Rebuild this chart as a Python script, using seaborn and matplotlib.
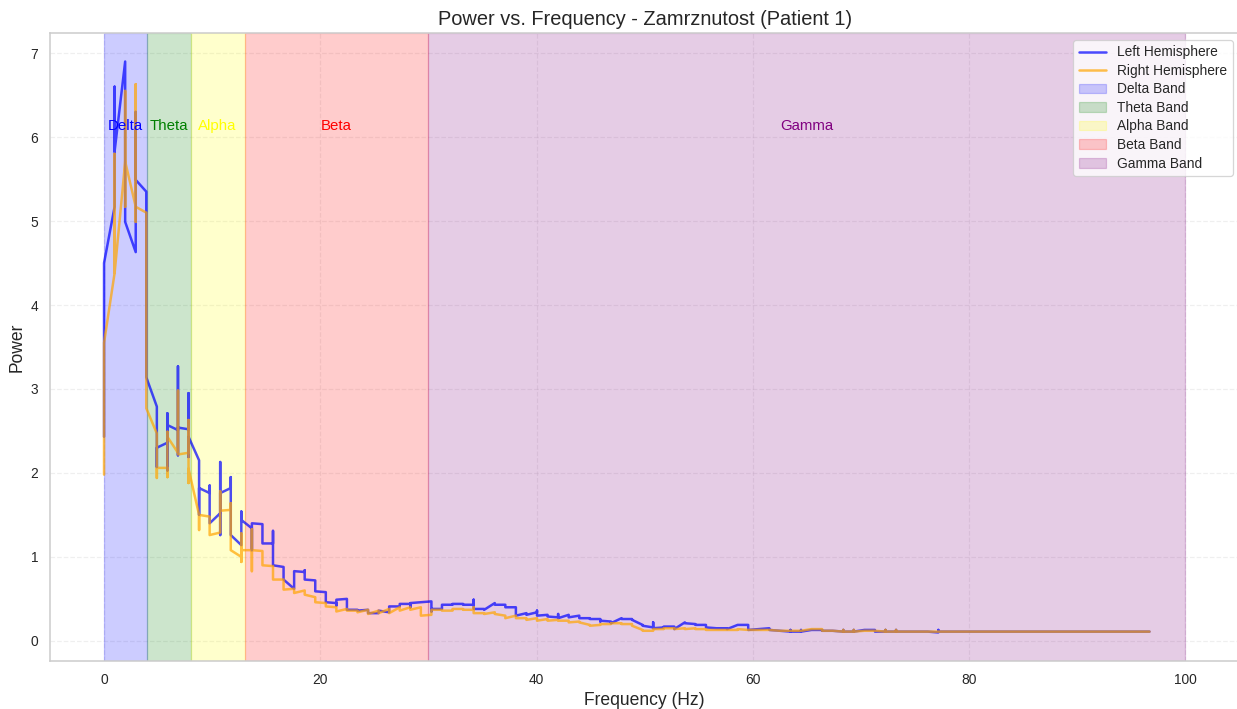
import numpy as np
import pandas as pd
import matplotlib
matplotlib.use('Agg')
import matplotlib.pyplot as plt
import seaborn as sns

# PSD bins (fs = 250 Hz, nperseg = 256) -> bin k sits at k * 250/256 Hz
freq_res = 250 / 256

# power values visited at each bin, in drawing order (several values = vertical jump)
left_power = [
    [2.43, 4.5], [5.17, 6.6, 5.83], [6.9, 4.99], [4.63, 6.3, 5.49], [5.35, 3.14],
    [2.79, 2.07, 2.3], [2.36, 2.71, 2.03, 2.57], [2.51, 3.27, 2.21, 2.54], [2.52, 2.95, 2.19, 2.43], [2.15, 1.5, 1.82],
    [1.76, 1.85, 1.4], [1.52, 2.13, 1.26, 1.76], [1.82, 1.95, 1.26], [1.14, 1.54, 1.44], [1.34, 1.08, 1.40],
    [1.39, 1.16], [1.16, 1.31, 0.9], [0.88, 0.73], [0.62, 0.83], [0.82, 0.84, 0.73],
    [0.72, 0.59], [0.58, 0.46], [0.45, 0.42, 0.49], [0.50, 0.49, 0.37], [0.37, 0.36],
    [0.37, 0.33], [0.33, 0.36], [0.34, 0.41], [0.41, 0.44], [0.44, 0.40, 0.45],
    [0.46, 0.46], [0.47, 0.35, 0.38], [0.38, 0.43], [0.43, 0.44], [0.44, 0.43],
    [0.43, 0.49, 0.38], [0.38, 0.37], [0.45, 0.43], [0.43, 0.40], [0.40, 0.30],
    [0.33, 0.31], [0.34, 0.36, 0.30], [0.31, 0.29], [0.28, 0.32, 0.27], [0.31, 0.28],
    [0.30, 0.27], [0.27, 0.26], [0.26, 0.23, 0.24], [0.23, 0.21], [0.27, 0.26],
    [0.26, 0.25], [0.19, 0.18], [0.16, 0.22, 0.15], [0.16, 0.17], [0.17, 0.14],
    [0.22, 0.21], [0.20, 0.19], [0.19, 0.16], [0.15, 0.15], [0.15, 0.14],
    [0.19], [0.19, 0.13], [0.14], [0.15, 0.13], [0.12],
    [0.11, 0.13, 0.11], [0.11, 0.13, 0.11], [0.13], [0.13, 0.12], [0.12],
    [0.11, 0.13, 0.11], [0.11, 0.13, 0.11], [0.13], [0.13, 0.11], [0.11, 0.13, 0.11],
    [0.11, 0.13, 0.11], [0.11], [0.11], [0.11], [0.10, 0.13, 0.11],
    [0.11], [0.11], [0.11], [0.11], [0.11], [0.11], [0.11], [0.11], [0.11], [0.11],
    [0.11], [0.11], [0.11], [0.11], [0.11], [0.11], [0.11], [0.11], [0.11], [0.11],
]

right_power = [
    [1.98, 3.55], [4.38, 5.8, 4.38], [5.7, 6.55, 5.17, 5.71], [5.17, 6.63, 4.99, 5.17], [5.1, 2.77],
    [2.47, 1.94, 2.06], [2.06, 1.95, 2.49, 2.43], [2.24, 2.98, 2.22], [2.24, 2.63, 1.88, 2.05], [1.5, 1.32, 1.5],
    [1.48, 1.26], [1.29, 1.78, 1.55], [1.56, 1.64, 1.08], [1.0, 1.28, 0.94, 1.08], [1.08, 1.33, 0.83, 1.08],
    [1.07, 0.9], [0.89, 0.73], [0.73, 0.61], [0.62, 0.57], [0.60, 0.55],
    [0.52, 0.46], [0.45, 0.41], [0.40, 0.35], [0.38, 0.36], [0.36, 0.34],
    [0.37, 0.32], [0.36, 0.33], [0.38, 0.33], [0.40, 0.36], [0.40, 0.37],
    [0.40, 0.30], [0.31, 0.37], [0.37, 0.36], [0.36, 0.38], [0.38, 0.37],
    [0.37, 0.40, 0.33], [0.33, 0.32], [0.34, 0.32], [0.30, 0.27], [0.30, 0.27],
    [0.27, 0.25], [0.27, 0.24], [0.26, 0.24], [0.25, 0.24], [0.24, 0.22],
    [0.23, 0.22], [0.19, 0.18], [0.19, 0.20], [0.20, 0.21], [0.21, 0.20],
    [0.20, 0.18], [0.13, 0.12], [0.12, 0.14], [0.14, 0.15], [0.15, 0.14],
    [0.15, 0.14], [0.15, 0.14], [0.14, 0.13], [0.13], [0.13],
    [0.13, 0.14], [0.13], [0.13], [0.13], [0.12],
    [0.12], [0.12], [0.14], [0.14, 0.12], [0.12],
    [0.11, 0.13, 0.11], [0.11, 0.13, 0.11], [0.12], [0.12], [0.11, 0.13, 0.11],
    [0.11, 0.13, 0.11], [0.11], [0.11], [0.11], [0.11],
    [0.11], [0.11], [0.11], [0.11], [0.11], [0.11], [0.11], [0.11], [0.11], [0.11],
    [0.11], [0.11], [0.11], [0.11], [0.11], [0.11], [0.11], [0.11], [0.11], [0.11],
]

band_names = ['Delta', 'Theta', 'Alpha', 'Beta', 'Gamma']
band_edges = [(0, 4), (4, 8), (8, 13), (13, 30), (30, 100)]
band_colors = ['blue', 'green', 'yellow', 'red', 'purple']


def to_frame(power):
    rows = [(k * freq_res, p) for k, vals in enumerate(power) for p in vals]
    return pd.DataFrame(rows, columns=['freq', 'power'])


left_df = to_frame(left_power)
right_df = to_frame(right_power)

sns.set_theme(style='whitegrid')
plt.rcParams['font.family'] = ['Liberation Sans', 'DejaVu Sans']

fig, ax = plt.subplots(figsize=(1237 / 90, 709 / 90), dpi=90)
fig.subplots_adjust(left=0.0404, right=1.002, top=0.9535, bottom=0.0677)

sns.lineplot(data=left_df, x='freq', y='power', sort=False, estimator=None,
             color='blue', alpha=0.7, linewidth=2, label='Left Hemisphere', ax=ax)
sns.lineplot(data=right_df, x='freq', y='power', sort=False, estimator=None,
             color='orange', alpha=0.7, linewidth=2, label='Right Hemisphere', ax=ax)

for name, (lo, hi), c in zip(band_names, band_edges, band_colors):
    ax.axvspan(lo, hi, color=c, alpha=0.2, label=f'{name} Band')
    ax.text((lo + hi) / 2, 6.13, name, color=c, ha='center', va='center', fontsize=12)

ax.grid(True, linestyle='--', alpha=0.3)
ax.set_title('Power vs. Frequency - Zamrznutost (Patient 1)', fontsize=16)
ax.set_xlabel('Frequency (Hz)', fontsize=14)
ax.set_ylabel('Power', fontsize=14)
ax.legend(loc='upper right', fontsize=11, labelspacing=0.33)

fig.savefig('out.png', dpi=90)
